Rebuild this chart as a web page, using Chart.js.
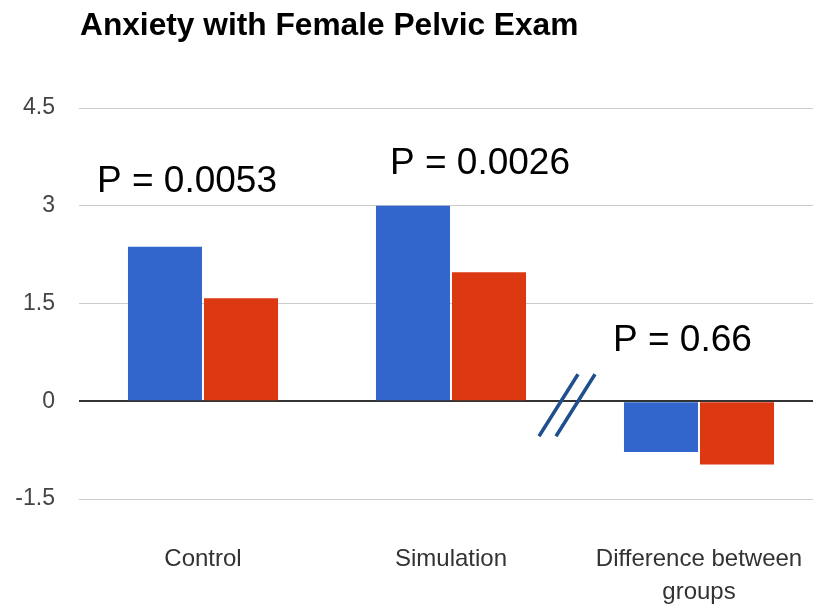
<!DOCTYPE html>
<html>
<head>
<meta charset="utf-8">
<script src="https://cdn.jsdelivr.net/npm/chart.js@4.4.1/dist/chart.umd.min.js"></script>
<style>
html,body{margin:0;padding:0;background:#fff;overflow:hidden;width:813px;height:606px;}
#wrap{position:absolute;left:0;top:0;width:830px;height:606px;}
canvas{display:block;}
</style>
</head>
<body>
<div id="wrap"><canvas id="c" width="830" height="606" style="width:830px;height:606px"></canvas></div>
<script>
const chartTitle = 'Anxiety with Female Pelvic Exam';
const categories = ['Control', 'Simulation', ['Difference between', 'groups']];
const seriesA = [2.37, 3.0, -0.78];
const seriesB = [1.58, 1.98, -0.97];
const yTicks = [-1.5, 0, 1.5, 3, 4.5];
const pLabels = ['P = 0.0053', 'P = 0.0026', 'P = 0.66'];

const annotStyle = {
  offsets: [[-106, 182], [-61, 164], [-86, 341]],
  font: '37px "Liberation Sans", Arial, sans-serif'
};

const overlay = {
  id: 'overlay',
  afterDraw(chart) {
    const ctx = chart.ctx;
    const xs = chart.scales.x, ys = chart.scales.y;
    ctx.save();
    ctx.fillStyle = '#000';
    ctx.font = 'bold 31.7px "Liberation Sans", Arial, sans-serif';
    ctx.textAlign = 'left';
    ctx.textBaseline = 'alphabetic';
    ctx.fillText(chartTitle, 80, 35);
    ctx.font = annotStyle.font;
    ctx.textBaseline = 'middle';
    pLabels.forEach((t, i) => {
      const cx = xs.getPixelForValue(i);
      ctx.fillText(t, cx + annotStyle.offsets[i][0], annotStyle.offsets[i][1]);
    });
    const bx = (xs.getPixelForValue(1) + xs.getPixelForValue(2)) / 2;
    const by = ys.getPixelForValue(0);
    ctx.strokeStyle = '#1f4f8f';
    ctx.lineWidth = 3.5;
    ctx.beginPath();
    ctx.moveTo(bx - 36, by + 35); ctx.lineTo(bx + 3, by - 27);
    ctx.moveTo(bx - 19, by + 35); ctx.lineTo(bx + 20, by - 27);
    ctx.stroke();
    ctx.restore();
  }
};

new Chart(document.getElementById('c'), {
  type: 'bar',
  data: {
    labels: categories,
    datasets: [
      { label: 'A', data: seriesA, backgroundColor: '#3366cc', borderWidth: 0 },
      { label: 'B', data: seriesB, backgroundColor: '#dc3912', borderWidth: 0 }
    ]
  },
  options: {
    responsive: false,
    maintainAspectRatio: false,
    animation: false,
    devicePixelRatio: 1,
    layout: { padding: { top: 108, right: 7, left: 0, bottom: 0 } },
    datasets: { bar: { categoryPercentage: 0.613, barPercentage: 0.974 } },
    plugins: { legend: { display: false }, title: { display: false }, tooltip: { enabled: false } },
    scales: {
      x: {
        grid: { display: true, drawOnChartArea: false, drawTicks: true, tickLength: 44, tickColor: 'rgba(0,0,0,0)' },
        border: { display: false },
        ticks: { color: '#333', font: { family: '"Liberation Sans", Arial, sans-serif', size: 24, lineHeight: 1.375 }, padding: 0, maxRotation: 0, autoSkip: false },
        afterFit(s) { s.height = 107; }
      },
      y: {
        min: -1.5, max: 4.5,
        afterBuildTicks(s) { s.ticks = yTicks.map(v => ({ value: v })); },
        grid: {
          drawTicks: false,
          color: ctx => (ctx.tick && ctx.tick.value === 0) ? '#333' : '#cccccc',
          lineWidth: ctx => (ctx.tick && ctx.tick.value === 0) ? 2 : 1
        },
        border: { display: false },
        ticks: { color: '#444', font: { family: '"Liberation Sans", Arial, sans-serif', size: 23 }, padding: 24 },
        afterFit(s) { s.width = 79; }
      }
    }
  },
  plugins: [overlay]
});
</script>
</body>
</html>
